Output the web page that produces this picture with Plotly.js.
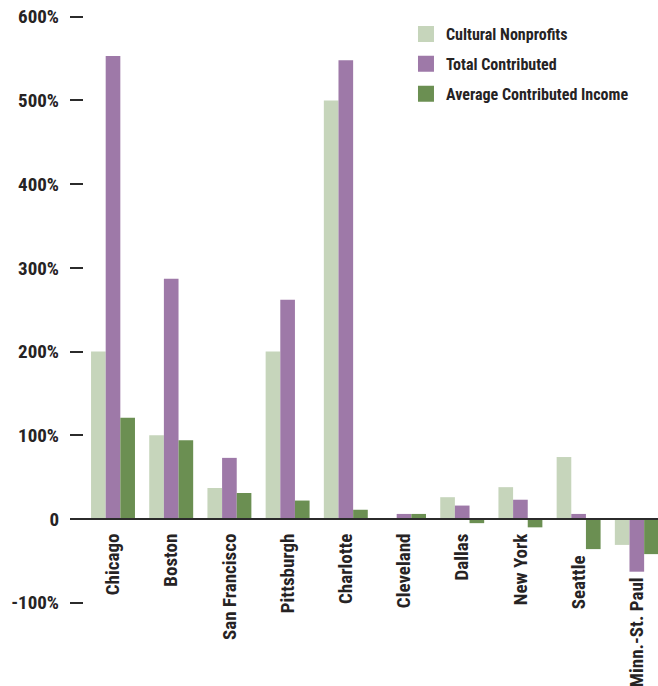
<!DOCTYPE html>
<html>
<head>
<meta charset="utf-8">
<script src="https://cdn.plot.ly/plotly-3.0.1.min.js"></script>
<style>
  html, body { margin: 0; padding: 0; background: #ffffff; }
  #chart { width: 658px; height: 686px; }
</style>
</head>
<body>
<div id="chart"></div>
<script>
// Percent change by city
const cities = ['Chicago', 'Boston', 'San Francisco', 'Pittsburgh', 'Charlotte',
                'Cleveland', 'Dallas', 'New York', 'Seattle', 'Minn.-St. Paul'];
const culturalNonprofits = [200, 100, 37, 200, 500, 0, 26, 38, 74, -31];
const totalContributed = [553, 287, 73, 262, 548, 6, 16, 23, 6, -63];
const averageContributedIncome = [121, 94, 31, 22, 11, 6, -5, -10, -36, -42];

const yTickVals = [-100, 0, 100, 200, 300, 400, 500, 600];
const yTickText = ['-100%', '0', '100%', '200%', '300%', '400%', '500%', '600%'];

const FONT = 'Roboto Condensed, Open Sans Condensed, Arial Narrow, sans-serif';
const INK = '#262324';
const COLORS = ['#c6d5bb', '#9e79a8', '#6b8f52'];

// labels under negative bars start lower, clear of the bars
const labelDrop = { 'Seattle': 5, 'Minn.-St. Paul': 10 };
const cityTickText = cities.map(c => c + '\u00a0'.repeat(labelDrop[c] || 0));

function barSeries(name, values, color) {
  return {
    type: 'bar',
    name: name,
    x: cities,
    y: values,
    legendgroup: name,
    showlegend: false,
    marker: { color: color, line: { width: 0 } },
    hoverinfo: 'x+y'
  };
}

// square legend keys for each bar series
function legendKey(name, color) {
  return {
    type: 'scatter',
    mode: 'markers',
    name: name,
    x: [cities[0]],
    y: [null],
    legendgroup: name,
    showlegend: true,
    marker: { symbol: 'square', size: 17, color: color, line: { width: 0 } },
    hoverinfo: 'skip'
  };
}

const names = ['Cultural Nonprofits', 'Total Contributed', 'Average Contributed Income'];
const seriesValues = [culturalNonprofits, totalContributed, averageContributedIncome];

const data = [];
names.forEach((n, i) => data.push(barSeries(n, seriesValues[i], COLORS[i])));
names.forEach((n, i) => data.push(legendKey(n, COLORS[i])));

const layout = {
  width: 658,
  height: 686,
  margin: { l: 70, r: 0, t: 10, b: 6, autoexpand: false },
  paper_bgcolor: '#ffffff',
  plot_bgcolor: '#ffffff',
  barmode: 'group',
  bargap: 0.245,
  bargroupgap: 0,
  font: { family: FONT, color: INK, size: 18, weight: 'bold' },
  showlegend: true,
  legend: {
    xref: 'container', yref: 'container',
    x: 0.617, y: 0.975, xanchor: 'left', yanchor: 'top',
    traceorder: 'grouped',
    tracegroupgap: 6,
    itemsizing: 'trace',
    font: { family: FONT, size: 16, color: INK, weight: 'bold' },
    bgcolor: 'rgba(0,0,0,0)'
  },
  xaxis: {
    type: 'category',
    range: [-0.739, 9.364],
    anchor: 'free',
    position: 0.2403,
    showline: true,
    linecolor: '#2b2b2b',
    linewidth: 2,
    showgrid: false,
    zeroline: false,
    ticks: '',
    tickangle: -90,
    tickmode: 'array',
    tickvals: cities,
    ticktext: cityTickText,
    ticklabelstandoff: 6,
    tickfont: { family: FONT, size: 19, color: INK, weight: 'bold' }
  },
  yaxis: {
    range: [-192.4, 608.1],
    tickvals: yTickVals,
    ticktext: yTickText,
    showgrid: false,
    zeroline: false,
    showline: false,
    ticks: 'inside',
    ticklen: 13,
    tickwidth: 2,
    tickcolor: '#2b2b2b',
    ticklabelstandoff: 10,
    tickfont: { family: FONT, size: 19, color: INK, weight: 'bold' }
  }
};

Plotly.newPlot('chart', data, layout, { displayModeBar: false, staticPlot: true });
</script>
</body>
</html>
